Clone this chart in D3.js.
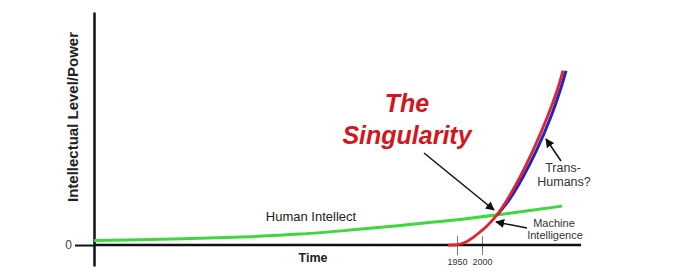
<!DOCTYPE html>
<html>
<head>
<meta charset="utf-8">
<script src="https://cdn.jsdelivr.net/npm/d3@7"></script>
<style>
  body { margin: 0; background: #fff; }
  svg { display: block; font-family: "Liberation Sans", Arial, sans-serif; }
</style>
</head>
<body>
<div id="chart"></div>
<script>
// years on the time axis, values on the intellect axis
const humanYears = [1224, 1336, 1436, 1536, 1636, 1736, 1836, 1936, 2036, 2160];
const humanValues = [1.9, 2.4, 2.9, 3.6, 4.7, 6.4, 8.4, 10.5, 13.1, 16.7];

const machineYears = [1932, 1952, 1968, 1982, 1996, 2010, 2030, 2050, 2076, 2102, 2130, 2150, 2162];
const machineValues = [0, 0.2, 1.3, 3.2, 5.6, 8.2, 12.9, 19.3, 29.2, 40.6, 54.6, 66.2, 74.8];

const transYears = [2030, 2054, 2082, 2109, 2137, 2156, 2168];
const transValues = [12.9, 19.3, 29.2, 40.6, 54.6, 66.2, 74.8];

const yearTicks = [1950, 2000];
const valueTicks = [0];

const width = 696, height = 279;

const svg = d3.select('#chart')
    .append('svg')
    .attr('width', width)
    .attr('height', height);

const x = d3.scaleLinear().domain([1224, 2198]).range([94, 581]);
const y = d3.scaleLinear().domain([-9, 100]).range([266, 12]);

svg.append('defs').append('marker')
    .attr('id', 'arrow')
    .attr('viewBox', '0 0 10 10')
    .attr('refX', 9)
    .attr('refY', 5)
    .attr('markerWidth', 9)
    .attr('markerHeight', 9)
    .attr('markerUnits', 'userSpaceOnUse')
    .attr('orient', 'auto')
    .append('path')
    .attr('d', 'M0,0L10,5L0,10z')
    .attr('fill', '#111');

// x axis: 1950 / 2000 ticks crossing the baseline
const xAxis = svg.append('g')
    .attr('transform', 'translate(0,' + y(0) + ')')
    .call(d3.axisBottom(x).tickValues(yearTicks).tickFormat(d3.format('d'))
        .tickSize(10).tickSizeOuter(0).tickPadding(4));
xAxis.select('.domain').remove();
xAxis.selectAll('.tick line')
    .attr('y1', -9)
    .attr('stroke', '#777')
    .attr('stroke-width', 1);
xAxis.selectAll('.tick text')
    .attr('font-size', 9)
    .attr('fill', '#333')
    .attr('font-family', '"Liberation Sans", Arial, sans-serif');

svg.append('line')
    .attr('x1', x.range()[0])
    .attr('x2', x.range()[1])
    .attr('y1', y(0))
    .attr('y2', y(0))
    .attr('stroke', '#111')
    .attr('stroke-width', 2.5);

const yAxis = svg.append('g')
    .attr('transform', 'translate(' + x.range()[0] + ',0)')
    .call(d3.axisLeft(y).tickValues(valueTicks).tickSize(19).tickSizeOuter(0).tickPadding(3));
yAxis.select('.domain')
    .attr('stroke', '#111')
    .attr('stroke-width', 2.5);
yAxis.selectAll('.tick line')
    .attr('stroke', '#111')
    .attr('stroke-width', 2);
yAxis.selectAll('.tick text')
    .attr('font-size', 12)
    .attr('fill', '#444')
    .attr('font-family', '"Liberation Sans", Arial, sans-serif');

svg.append('text')
    .attr('transform', 'translate(78,117) rotate(-90)')
    .attr('text-anchor', 'middle')
    .attr('font-size', 15)
    .attr('font-weight', 'bold')
    .attr('fill', '#222')
    .text('Intellectual Level/Power');

svg.append('text')
    .attr('x', 313)
    .attr('y', 262)
    .attr('text-anchor', 'middle')
    .attr('font-size', 12.5)
    .attr('font-weight', 'bold')
    .attr('fill', '#222')
    .text('Time');

const line = d3.line()
    .x(d => x(d[0]))
    .y(d => y(d[1]))
    .curve(d3.curveCatmullRom.alpha(0.5));

svg.append('path')
    .attr('d', line(d3.zip(humanYears, humanValues)))
    .attr('fill', 'none')
    .attr('stroke', '#3ed83e')
    .attr('stroke-width', 3);

svg.append('path')
    .attr('d', line(d3.zip(transYears, transValues)))
    .attr('fill', 'none')
    .attr('stroke', '#2323c8')
    .attr('stroke-width', 3);

svg.append('path')
    .attr('d', line(d3.zip(machineYears, machineValues)))
    .attr('fill', 'none')
    .attr('stroke', '#e0242c')
    .attr('stroke-width', 2.8);

// labels
const title = svg.append('text')
    .attr('text-anchor', 'middle')
    .attr('font-size', 25)
    .attr('font-weight', 'bold')
    .attr('font-style', 'italic')
    .attr('fill', '#d4161c');
title.append('tspan').attr('x', 407).attr('y', 112).text('The');
title.append('tspan').attr('x', 407).attr('y', 144).text('Singularity');

svg.append('text')
    .attr('x', 311)
    .attr('y', 221)
    .attr('text-anchor', 'middle')
    .attr('font-size', 13)
    .attr('fill', '#222')
    .text('Human Intellect');

const trans = svg.append('text')
    .attr('text-anchor', 'middle')
    .attr('font-size', 12.5)
    .attr('fill', '#333');
trans.append('tspan').attr('x', 563).attr('y', 172).text('Trans-');
trans.append('tspan').attr('x', 564).attr('y', 186).text('Humans?');

const machine = svg.append('text')
    .attr('text-anchor', 'middle')
    .attr('font-size', 11)
    .attr('fill', '#333');
machine.append('tspan').attr('x', 554).attr('y', 227).text('Machine');
machine.append('tspan').attr('x', 555).attr('y', 239).text('Intelligence');

// pointer arrows
const arrows = [
    [[424, 153], [494, 210]],
    [[561, 161], [546, 139]],
    [[527, 228], [496, 222]]
];
svg.append('g')
    .selectAll('line')
    .data(arrows)
    .enter()
    .append('line')
    .attr('x1', d => d[0][0])
    .attr('y1', d => d[0][1])
    .attr('x2', d => d[1][0])
    .attr('y2', d => d[1][1])
    .attr('stroke', '#111')
    .attr('stroke-width', 1.5)
    .attr('marker-end', 'url(#arrow)');
</script>
</body>
</html>
